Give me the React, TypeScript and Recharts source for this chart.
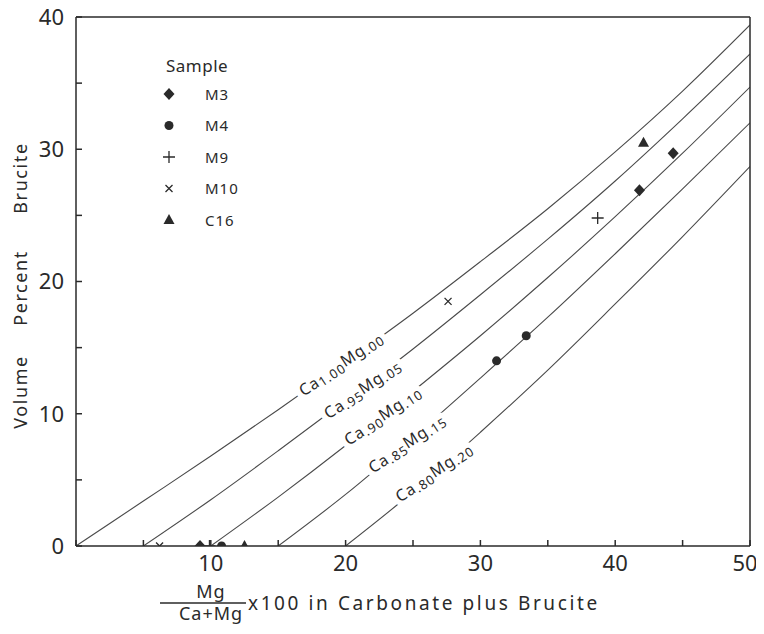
import {
  ComposedChart,
  Line,
  Scatter,
  XAxis,
  YAxis,
  ReferenceDot,
  Legend,
  Label,
} from "recharts";

// curves: volume % brucite vs Mg/(Ca+Mg) for each carbonate composition
const c100X = [0, 5, 10, 15, 20, 25, 30, 35, 40, 45, 50];
const c100Y = [0, 3.4, 6.8, 10.3, 13.9, 17.6, 21.5, 25.5, 29.8, 34.4, 39.4];
const c95X = [5, 10, 15, 20, 25, 30, 35, 40, 45, 50];
const c95Y = [0, 3.5, 7.2, 11.0, 14.9, 19.0, 23.2, 27.6, 32.3, 37.2];
const c90X = [10, 15, 20, 25, 30, 35, 40, 45, 50];
const c90Y = [0, 3.7, 7.6, 11.7, 15.9, 20.3, 24.9, 29.7, 34.7];
const c85X = [15, 20, 25, 30, 35, 40, 45, 50];
const c85Y = [0, 3.9, 8.2, 12.7, 17.3, 22.1, 27.0, 32.0];
const c80X = [20, 25, 30, 35, 40, 45, 50];
const c80Y = [0, 4.1, 8.6, 13.3, 18.3, 23.4, 28.7];

// samples
const m3X = [9.2, 41.8, 44.3];
const m3Y = [0, 26.9, 29.7];
const m4X = [10.8, 31.2, 33.4];
const m4Y = [0, 14.0, 15.9];
const m9X = [9.9, 38.7];
const m9Y = [0, 24.8];
const m10X = [6.2, 27.6];
const m10Y = [0, 18.5];
const c16X = [12.5, 42.1];
const c16Y = [0, 30.5];

const xTicks = [0, 5, 10, 15, 20, 25, 30, 35, 40, 45, 50];
const yTicks = [0, 5, 10, 15, 20, 25, 30, 35, 40];

const zip = (xs: number[], ys: number[]) => xs.map((x, i) => ({ x, y: ys[i] }));

const ink = "#2a2a2a";
const lineInk = "#4a4a4a";
const font = "'Noto Sans', sans-serif";

const Diamond = ({ cx, cy }: any) => (
  <path d={`M${cx} ${cy - 6}L${cx + 5.5} ${cy}L${cx} ${cy + 6}L${cx - 5.5} ${cy}Z`} fill={ink} />
);
const Dot = ({ cx, cy }: any) => <circle cx={cx} cy={cy} r={4.5} fill={ink} />;
const Plus = ({ cx, cy }: any) => (
  <path d={`M${cx - 6} ${cy}H${cx + 6}M${cx} ${cy - 6}V${cy + 6}`} stroke={ink} strokeWidth={1.3} />
);
const Cross = ({ cx, cy }: any) => (
  <path d={`M${cx - 3.5} ${cy - 3.5}L${cx + 3.5} ${cy + 3.5}M${cx + 3.5} ${cy - 3.5}L${cx - 3.5} ${cy + 3.5}`} stroke={ink} strokeWidth={1.3} />
);
const Tri = ({ cx, cy }: any) => (
  <path d={`M${cx} ${cy - 6}L${cx + 5.5} ${cy + 4}L${cx - 5.5} ${cy + 4}Z`} fill={ink} />
);

const curves = [
  { name: "Ca1.00Mg.00", data: zip(c100X, c100Y) },
  { name: "Ca.95Mg.05", data: zip(c95X, c95Y) },
  { name: "Ca.90Mg.10", data: zip(c90X, c90Y) },
  { name: "Ca.85Mg.15", data: zip(c85X, c85Y) },
  { name: "Ca.80Mg.20", data: zip(c80X, c80Y) },
];

const samples = [
  { name: "M3", data: zip(m3X, m3Y), shape: Diamond },
  { name: "M4", data: zip(m4X, m4Y), shape: Dot },
  { name: "M9", data: zip(m9X, m9Y), shape: Plus },
  { name: "M10", data: zip(m10X, m10Y), shape: Cross },
  { name: "C16", data: zip(c16X, c16Y), shape: Tri },
];

// where each curve name sits on its curve
const curveLabels = [
  { x: 19.7, y: 13.7, a: "1.00", b: ".00" },
  { x: 21.3, y: 11.8, a: ".95", b: ".05" },
  { x: 22.8, y: 9.8, a: ".90", b: ".10" },
  { x: 24.6, y: 7.7, a: ".85", b: ".15" },
  { x: 26.6, y: 5.5, a: ".80", b: ".20" },
];

const LabelText = ({ cx, cy, a, b, halo }: any) => (
  <text
    x={cx}
    y={cy}
    transform={`rotate(-33 ${cx} ${cy})`}
    textAnchor="middle"
    dominantBaseline="central"
    fontSize={16}
    fontFamily={font}
    fill={halo ? "#fff" : ink}
    stroke={halo ? "#fff" : "none"}
    strokeWidth={halo ? 11 : 0}
    strokeLinejoin="round"
    letterSpacing={1}
  >
    Ca
    <tspan dy={3} fontSize={13}>{a}</tspan>
    <tspan dy={-5}>Mg</tspan>
    <tspan dy={3} fontSize={13}>{b}</tspan>
  </text>
);

const CurveLabel = (props: any) => (
  <g>
    <LabelText {...props} halo />
    <LabelText {...props} />
  </g>
);

const LegendBox = () => (
  <svg width={130} height={200} style={{ display: "block" }}>
    <text x={16} y={22} fontSize={17} fontFamily={font} fill={ink} letterSpacing={0.5}>
      Sample
    </text>
    {samples.map((s, i) => {
      const cy = 44 + i * 31.5;
      const S = s.shape;
      return (
        <g key={s.name}>
          <S cx={19} cy={cy} />
          <text x={55} y={cy + 5.5} fontSize={15} fontFamily={font} fill={ink} letterSpacing={1}>
            {s.name}
          </text>
        </g>
      );
    })}
  </svg>
);

const XTitle = ({ viewBox }: any) => {
  const x0 = viewBox.x;
  const y0 = viewBox.y;
  const fx = x0 + 135;
  return (
    <g fontFamily={font} fill={ink} fontSize={18}>
      <text x={fx} y={y0 + 52} textAnchor="middle" letterSpacing={1}>Mg</text>
      <line x1={x0 + 84} x2={x0 + 170} y1={y0 + 57} y2={y0 + 57} stroke={ink} strokeWidth={1.3} />
      <text x={fx} y={y0 + 74} textAnchor="middle" letterSpacing={1}>Ca+Mg</text>
      <text x={x0 + 172} y={y0 + 64} fontSize={19} letterSpacing={2.6}>x100 in Carbonate plus Brucite</text>
    </g>
  );
};

const YTitle = ({ viewBox }: any) => {
  const x = viewBox.x - 16;
  const words = [
    { t: "Volume", y: viewBox.y + 375 },
    { t: "Percent", y: viewBox.y + 271 },
    { t: "Brucite", y: viewBox.y + 161 },
  ];
  return (
    <g fontFamily={font} fill={ink} fontSize={18}>
      {words.map((w) => (
        <text key={w.t} x={x} y={w.y} textAnchor="middle" dominantBaseline="central" transform={`rotate(-90 ${x} ${w.y})`} letterSpacing={1.6}>
          {w.t}
        </text>
      ))}
    </g>
  );
};

const tickStyle = { fill: ink, fontSize: 22, fontFamily: font };

const XTick = ({ x, y, payload }: any) => {
  const v = payload.value;
  if (v % 10 !== 0 || v === 0) return null;
  return (
    <text x={v === 50 ? x - 5 : x} y={y} dy="0.71em" textAnchor="middle" {...tickStyle}>
      {v}
    </text>
  );
};

export default function App() {
  return (
    <div style={{ width: 764, height: 626, marginTop: -8, marginLeft: -8, background: "#fff" }}>
      <ComposedChart
        width={764}
        height={626}
        margin={{ top: 16, right: 13, left: 36, bottom: 50 }}
      >
        <XAxis
          type="number"
          dataKey="x"
          domain={[0, 50]}
          ticks={xTicks}
          interval={0}
          allowDataOverflow
          height={30}
          stroke={ink}
          strokeWidth={1.5}
          tickSize={-6}
          tickMargin={15}
          tick={<XTick />}
        >
          <Label content={XTitle} />
        </XAxis>
        <XAxis
          xAxisId="t"
          orientation="top"
          type="number"
          dataKey="x"
          domain={[0, 50]}
          ticks={xTicks}
          interval={0}
          allowDataOverflow
          height={1}
          stroke={ink}
          strokeWidth={1.5}
          tickSize={-6}
          tick={false}
        />
        <YAxis
          type="number"
          dataKey="y"
          domain={[0, 40]}
          ticks={yTicks}
          interval={0}
          allowDataOverflow
          width={40}
          stroke={ink}
          strokeWidth={1.5}
          tickSize={-6}
          tickMargin={18}
          tick={tickStyle}
          tickFormatter={(v) => (v % 10 === 0 ? String(v) : "")}
        >
          <Label content={YTitle} />
        </YAxis>
        <YAxis
          yAxisId="r"
          orientation="right"
          type="number"
          dataKey="y"
          domain={[0, 40]}
          ticks={yTicks}
          interval={0}
          allowDataOverflow
          width={1}
          stroke={ink}
          strokeWidth={1.5}
          tickSize={-6}
          tick={false}
        />
        {/* invisible twin of the first curve so the top and right frame axes are drawn */}
        <Line
          xAxisId="t"
          yAxisId="r"
          data={curves[0].data}
          dataKey="y"
          stroke="none"
          dot={false}
          activeDot={false}
          isAnimationActive={false}
          legendType="none"
        />
        {curves.map((c) => (
          <Line
            key={c.name}
            data={c.data}
            dataKey="y"
            name={c.name}
            type="monotone"
            stroke={lineInk}
            strokeWidth={1.1}
            dot={false}
            activeDot={false}
            isAnimationActive={false}
            legendType="none"
          />
        ))}
        {curveLabels.map((l, i) => (
          <ReferenceDot
            key={i}
            x={l.x}
            y={l.y}
            r={0}
            ifOverflow="visible"
            shape={(p: any) => <CurveLabel cx={p.cx} cy={p.cy} a={l.a} b={l.b} />}
          />
        ))}
        {samples.map((s) => (
          <Scatter
            key={s.name}
            name={s.name}
            data={s.data}
            dataKey="y"
            shape={(p: any) => <s.shape cx={p.cx} cy={p.cy} />}
            isAnimationActive={false}
          />
        ))}
        <Legend
          layout="horizontal"
          verticalAlign="middle"
          align="center"
          content={() => <LegendBox />}
          wrapperStyle={{ position: "absolute", left: 150, top: 50, width: 130, height: 200 }}
        />
      </ComposedChart>
    </div>
  );
}
